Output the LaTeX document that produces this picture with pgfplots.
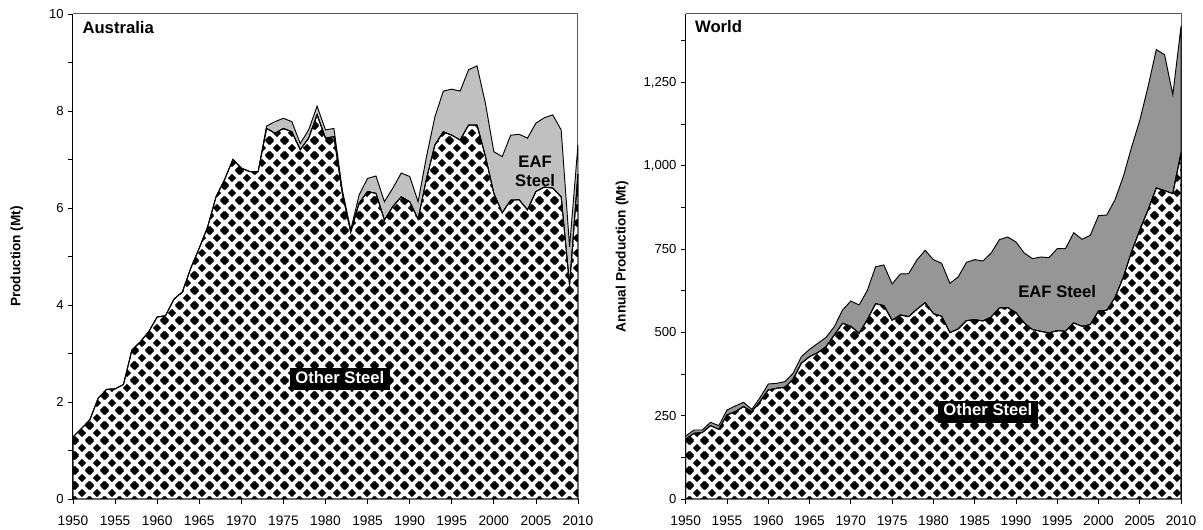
\documentclass[border=0pt]{standalone}
\usepackage{fontspec}
\setmainfont{Liberation Sans}
\usepackage{pgfplots}
\pgfplotsset{compat=1.18}
\usepackage{pgfplotstable}
\usetikzlibrary{patterns}

\definecolor{eafL}{RGB}{192,192,192}
\definecolor{eafW}{RGB}{150,150,150}
\definecolor{frame}{RGB}{90,90,90}

\newcommand\dia[3]{%
  \pgfpathmoveto{\pgfpoint{#1}{#2-#3}}%
  \pgfpathcurveto{\pgfpoint{#1+0.4*#3}{#2-0.4*#3}}{\pgfpoint{#1+0.4*#3}{#2-0.4*#3}}{\pgfpoint{#1+#3}{#2}}%
  \pgfpathcurveto{\pgfpoint{#1+0.4*#3}{#2+0.4*#3}}{\pgfpoint{#1+0.4*#3}{#2+0.4*#3}}{\pgfpoint{#1}{#2+#3}}%
  \pgfpathcurveto{\pgfpoint{#1-0.4*#3}{#2+0.4*#3}}{\pgfpoint{#1-0.4*#3}{#2+0.4*#3}}{\pgfpoint{#1-#3}{#2}}%
  \pgfpathcurveto{\pgfpoint{#1-0.4*#3}{#2-0.4*#3}}{\pgfpoint{#1-0.4*#3}{#2-0.4*#3}}{\pgfpoint{#1}{#2-#3}}%
  \pgfpathclose}
\pgfdeclarepatternformonly{diamondcheck}{\pgfpointorigin}{\pgfqpoint{11.25pt}{11.25pt}}{\pgfqpoint{11.25pt}{11.25pt}}{%
  \dia{5.625pt}{5.625pt}{3.3pt}%
  \dia{0pt}{0pt}{3.3pt}%
  \dia{11.25pt}{0pt}{3.3pt}%
  \dia{0pt}{11.25pt}{3.3pt}%
  \dia{11.25pt}{11.25pt}{3.3pt}%
  \pgfusepath{fill}}

\pgfplotstableread{
year other eaf
1950 1.28 0
1951 1.45 0
1952 1.63 0
1953 2.08 0
1954 2.26 0
1955 2.27 0
1956 2.36 0
1957 3.07 0
1958 3.24 0
1959 3.45 0
1960 3.75 0
1961 3.78 0
1962 4.12 0
1963 4.27 0
1964 4.76 0
1965 5.17 0
1966 5.61 0
1967 6.23 0
1968 6.58 0
1969 7.00 0
1970 6.82 0
1971 6.75 0
1972 6.75 0
1973 7.64 0.05
1974 7.54 0.24
1975 7.64 0.21
1976 7.57 0.21
1977 7.20 0.13
1978 7.44 0.17
1979 7.92 0.18
1980 7.44 0.17
1981 7.47 0.17
1982 6.30 0.07
1983 5.50 0.05
1984 6.10 0.17
1985 6.34 0.27
1986 6.30 0.36
1987 5.75 0.38
1988 6.03 0.38
1989 6.23 0.49
1990 6.13 0.52
1991 5.77 0.36
1992 6.60 0.46
1993 7.30 0.58
1994 7.57 0.84
1995 7.50 0.95
1996 7.40 1.01
1997 7.71 1.14
1998 7.71 1.22
1999 7.06 1.10
2000 6.30 0.86
2001 5.90 1.16
2002 6.16 1.34
2003 6.17 1.35
2004 5.96 1.48
2005 6.34 1.41
2006 6.43 1.43
2007 6.41 1.51
2008 6.23 1.38
2009 4.40 0.80
2010 6.70 0.60
}\aus

\pgfplotstableread{
year other eaf
1950 179 10
1951 197 10
1952 199 8
1953 220 10
1954 209 11
1955 252 15
1956 262 17
1957 277 13
1958 262 7
1959 292 12
1960 327 18
1961 332 15
1962 335 17
1963 359 18
1964 407 20
1965 427 22
1966 439 28
1967 457 28
1968 492 25
1969 527 40
1970 518 76
1971 497 85
1972 538 88
1973 586 111
1974 580 122
1975 536 109
1976 552 123
1977 547 129
1978 569 148
1979 589 157
1980 556 162
1981 548 159
1982 499 148
1983 510 156
1984 535 175
1985 538 180
1986 534 180
1987 546 192
1988 573 205
1989 574 212
1990 559 212
1991 528 210
1992 508 213
1993 503 223
1994 498 226
1995 505 246
1996 503 248
1997 528 271
1998 518 261
1999 523 268
2000 564 286
2001 566 286
2002 604 294
2003 665 302
2004 741 314
2005 807 329
2006 867 370
2007 933 415
2008 925 408
2009 916 297
2010 1039 380
}\world

\pgfplotsset{
  steelaxis/.style={
    scale only axis,
    axis lines=left,
    axis line style={-, black, line width=0.75pt},
    xmin=1950, xmax=2010,
    xtick={1950,1955,...,2010},
    tick align=outside,
    major tick length=3.5pt,
    minor tick length=3.5pt,
    tick style={black, line width=0.6pt},
    /pgf/number format/assume math mode=true,
    xticklabel style={font=\fontsize{10.3}{12}\selectfont, /pgf/number format/1000 sep={}, yshift=-6pt},
    yticklabel style={font=\fontsize{9.8}{11}\selectfont, /pgf/number format/1000 sep={,}},
    ylabel style={font=\bfseries\fontsize{10.25}{12}\selectfont, anchor=center},
    stack plots=y,
    clip=false,
  },
  other/.style={draw=black, line width=0.7pt, fill=white, postaction={pattern=diamondcheck}},
}
\tikzset{lab/.style={font=\bfseries\fontsize{12.5}{14}\selectfont}}
\newcommand\olabel[1]{{\setlength{\fboxsep}{0pt}\colorbox{black}{\rule[-5pt]{0pt}{16.5pt}\hspace{4.2pt}\textcolor{white}{#1}\hspace{4.2pt}}}}

\begin{document}
\begin{tikzpicture}
\begin{axis}[steelaxis,
  at={(54.75pt,23.25pt)}, anchor=south west,
  width=378.75pt, height=363.75pt,
  ymin=0, ymax=10,
  ytick={0,2,...,10}, minor ytick={1,3,...,9},
  ylabel={Production (Mt)},
  ylabel style={at={(axis description cs:-0.111,0.5)}},
]
\addplot[other] table[x=year,y=other]{\aus} \closedcycle;
\addplot[draw=black, line width=0.7pt, fill=eafL] table[x=year,y=eaf]{\aus} \closedcycle;
\draw[frame, line width=0.75pt] (rel axis cs:0,1) -- (rel axis cs:1,1) -- (rel axis cs:1,0);
\coordinate (tA) at (axis cs:1951.1,9.73);
\coordinate (eA) at (axis cs:2004.9,6.76);
\coordinate (oA) at (axis cs:1981.7,2.47);
\end{axis}

\begin{axis}[steelaxis,
  at={(514.3pt,23.25pt)}, anchor=south west,
  width=371.5pt, height=363.75pt,
  ymin=0, ymax=1455,
  ytick={0,250,...,1250}, minor ytick={125,375,...,1375},
  ylabel={Annual Production (Mt)},
  ylabel style={at={(axis description cs:-0.1286,0.5)}},
]
\addplot[other] table[x=year,y=other]{\world} \closedcycle;
\addplot[draw=black, line width=0.7pt, fill=eafW] table[x=year,y=eaf]{\world} \closedcycle;
\draw[frame, line width=0.75pt] (rel axis cs:0,1) -- (rel axis cs:1,1) -- (rel axis cs:1,0);
\coordinate (tW) at (axis cs:1951.1,1416);
\coordinate (eW) at (axis cs:1995.0,621);
\coordinate (oW) at (axis cs:1986.6,262);
\end{axis}

\node[lab, anchor=west, inner sep=0pt] at (tA) {Australia};
\node[lab, align=center, inner sep=0pt] at (eA) {EAF\\[0pt]Steel};
\node[lab, inner sep=0pt] at (oA) {\olabel{Other Steel}};
\node[lab, anchor=west, inner sep=0pt] at (tW) {World};
\node[lab, inner sep=0pt] at (eW) {EAF Steel};
\node[lab, inner sep=0pt] at (oW) {\olabel{Other Steel}};

\pgfresetboundingbox
\path[use as bounding box] (0,0) rectangle (902.25pt,397.5pt);
\end{tikzpicture}
\end{document}
